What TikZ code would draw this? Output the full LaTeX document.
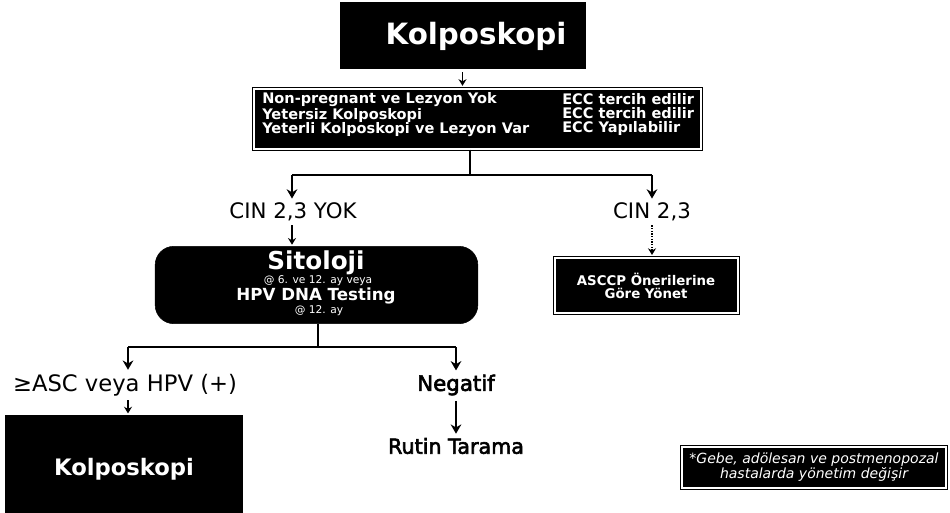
\documentclass[tikz,border=0pt]{standalone}
\usepackage{fontspec}
\setmainfont{DejaVu Sans}
% slightly heavier lettering: fill and stroke the glyph outlines
\newcommand\heavier[1]{\special{pdf:literal direct 2 Tr 0.45 w}#1\special{pdf:literal direct 0 Tr}}
\usetikzlibrary{arrows.meta}
\tikzset{
  box/.style={fill=black, draw=black, inner sep=0pt},
  framedbox/.style={box, double=white, double distance=1.2pt, line width=0.8pt},
  wtxt/.style={text=white, font=\bfseries, inner sep=0pt},
  btxt/.style={text=black, inner sep=0pt, font=\fontsize{16}{18}\selectfont},
  link/.style={line width=1.6pt, draw=black},
  tip/.style={-{Stealth[length=7pt,width=8pt]}, line width=1.4pt},
  smalltip/.style={-{Stealth[length=5pt,width=6pt]}, line width=1pt}
}
\begin{document}
\begin{tikzpicture}[x=0.75pt, y=-0.75pt]
\useasboundingbox (0,0) rectangle (950,512);

% heading box
\node[box, minimum width=183.75pt, minimum height=49.5pt] (top) at (462.5,35) {};
\node[wtxt, font=\fontsize{22}{24}\selectfont\bfseries] (toptxt) at (476,36) {Kolposkopi};

% criteria box
\node[framedbox, minimum width=335pt, minimum height=45pt] (crit) at (477.5,119) {};
\node[wtxt, anchor=west, align=left, font=\fontsize{10.9}{10.6}\selectfont\bfseries] (critL) at (262,114.5)
  {Non-pregnant ve Lezyon Yok\\Yetersiz Kolposkopi\\Yeterli Kolposkopi ve Lezyon Var};
\node[wtxt, anchor=west, align=left, font=\fontsize{10.9}{10.6}\selectfont\bfseries] (critR) at (562,114.5)
  {ECC tercih edilir\\ECC tercih edilir\\ECC Yap\i labilir};
\draw[smalltip] ([yshift=-3pt]top.south) -- ([yshift=2pt]top.south |- crit.north);

% first split
\coordinate (j1) at (470,175);
\coordinate (j1L) at (292,175);
\coordinate (j1R) at (652,175);
\node[btxt] (noCIN) at (293,212) {CIN 2,3 YOK};
\node[btxt] (CIN) at (652,212) {CIN 2,3};
\draw[link] (crit.south -| j1) -- (j1);
\draw[link] (j1L) -- (j1R);
\draw[tip] (j1L) -- ([yshift=3pt]j1L |- noCIN.north);
\draw[tip] (j1R) -- ([yshift=3pt]j1R |- CIN.north);

% cytology / HPV testing box
\node[box, rounded corners=14pt, minimum width=242pt, minimum height=58pt] (sit) at (316.5,285) {};
\node[wtxt, font=\fontsize{18.5}{20}\selectfont\bfseries] (sit1) at (316,263) {Sitoloji};
\node[wtxt, font=\fontsize{8}{9}\selectfont\mdseries] (sit2) at (318,281) {@ 6. ve 12. ay veya};
\node[wtxt, font=\fontsize{12.5}{14}\selectfont\bfseries] (sit3) at (316,296) {HPV DNA Testing};
\node[wtxt, font=\fontsize{8}{9}\selectfont\mdseries] (sit4) at (319,311) {@ 12. ay};
\draw[smalltip] ([yshift=-3pt]j1L |- noCIN.south) -- ([yshift=1pt]j1L |- sit.north);

% ASCCP box
\node[framedbox, minimum width=137pt, minimum height=41pt] (asc) at (646.5,285.5) {};
\node[wtxt, align=center, font=\fontsize{10}{9.8}\selectfont\bfseries] (asctxt) at (646,286)
  {ASCCP Önerilerine\\Göre Yönet};
\draw[smalltip, densely dotted] ([yshift=-3pt]CIN.south) -- ([yshift=2pt]CIN.south |- asc.north);

% second split
\coordinate (j2) at (318,347);
\coordinate (j2L) at (128,347);
\coordinate (j2R) at (456,347);
\node[btxt, font=\fontsize{17}{19}\selectfont] (pos) at (125,385) {≥ASC veya HPV (+)};
\node[btxt] (neg) at (456,385) {\heavier{Negatif}};
\draw[link] (sit.south -| j2) -- (j2);
\draw[link] (j2L) -- (j2R);
\draw[tip] (j2L) -- ([yshift=3pt]j2L |- pos.north);
\draw[tip] (j2R) -- ([yshift=3pt]j2R |- neg.north);

% outcomes
\node[box, minimum width=177.75pt, minimum height=72.75pt] (kol) at (123.5,463.5) {};
\node[wtxt, font=\fontsize{17}{19}\selectfont\bfseries] (koltxt) at (124,469) {Kolposkopi};
\draw[smalltip] ([yshift=-3pt]j2L |- pos.south) -- ([yshift=1pt]j2L |- kol.north);

\node[btxt, font=\fontsize{15.5}{17}\selectfont] (rutin) at (456,446) {\heavier{Rutin Tarama}};
\draw[tip, line width=2pt] ([yshift=-4pt]neg.south) -- ([yshift=3pt]neg.south |- rutin.north);

% footnote box
\node[framedbox, minimum width=198pt, minimum height=30.5pt] (note) at (814,467.5) {};
\node[wtxt, align=center, font=\fontsize{10.5}{11.5}\selectfont\itshape\mdseries] (notetxt) at (814,467)
  {*Gebe, adölesan ve postmenopozal\\hastalarda yönetim değişir};
\end{tikzpicture}
\end{document}
